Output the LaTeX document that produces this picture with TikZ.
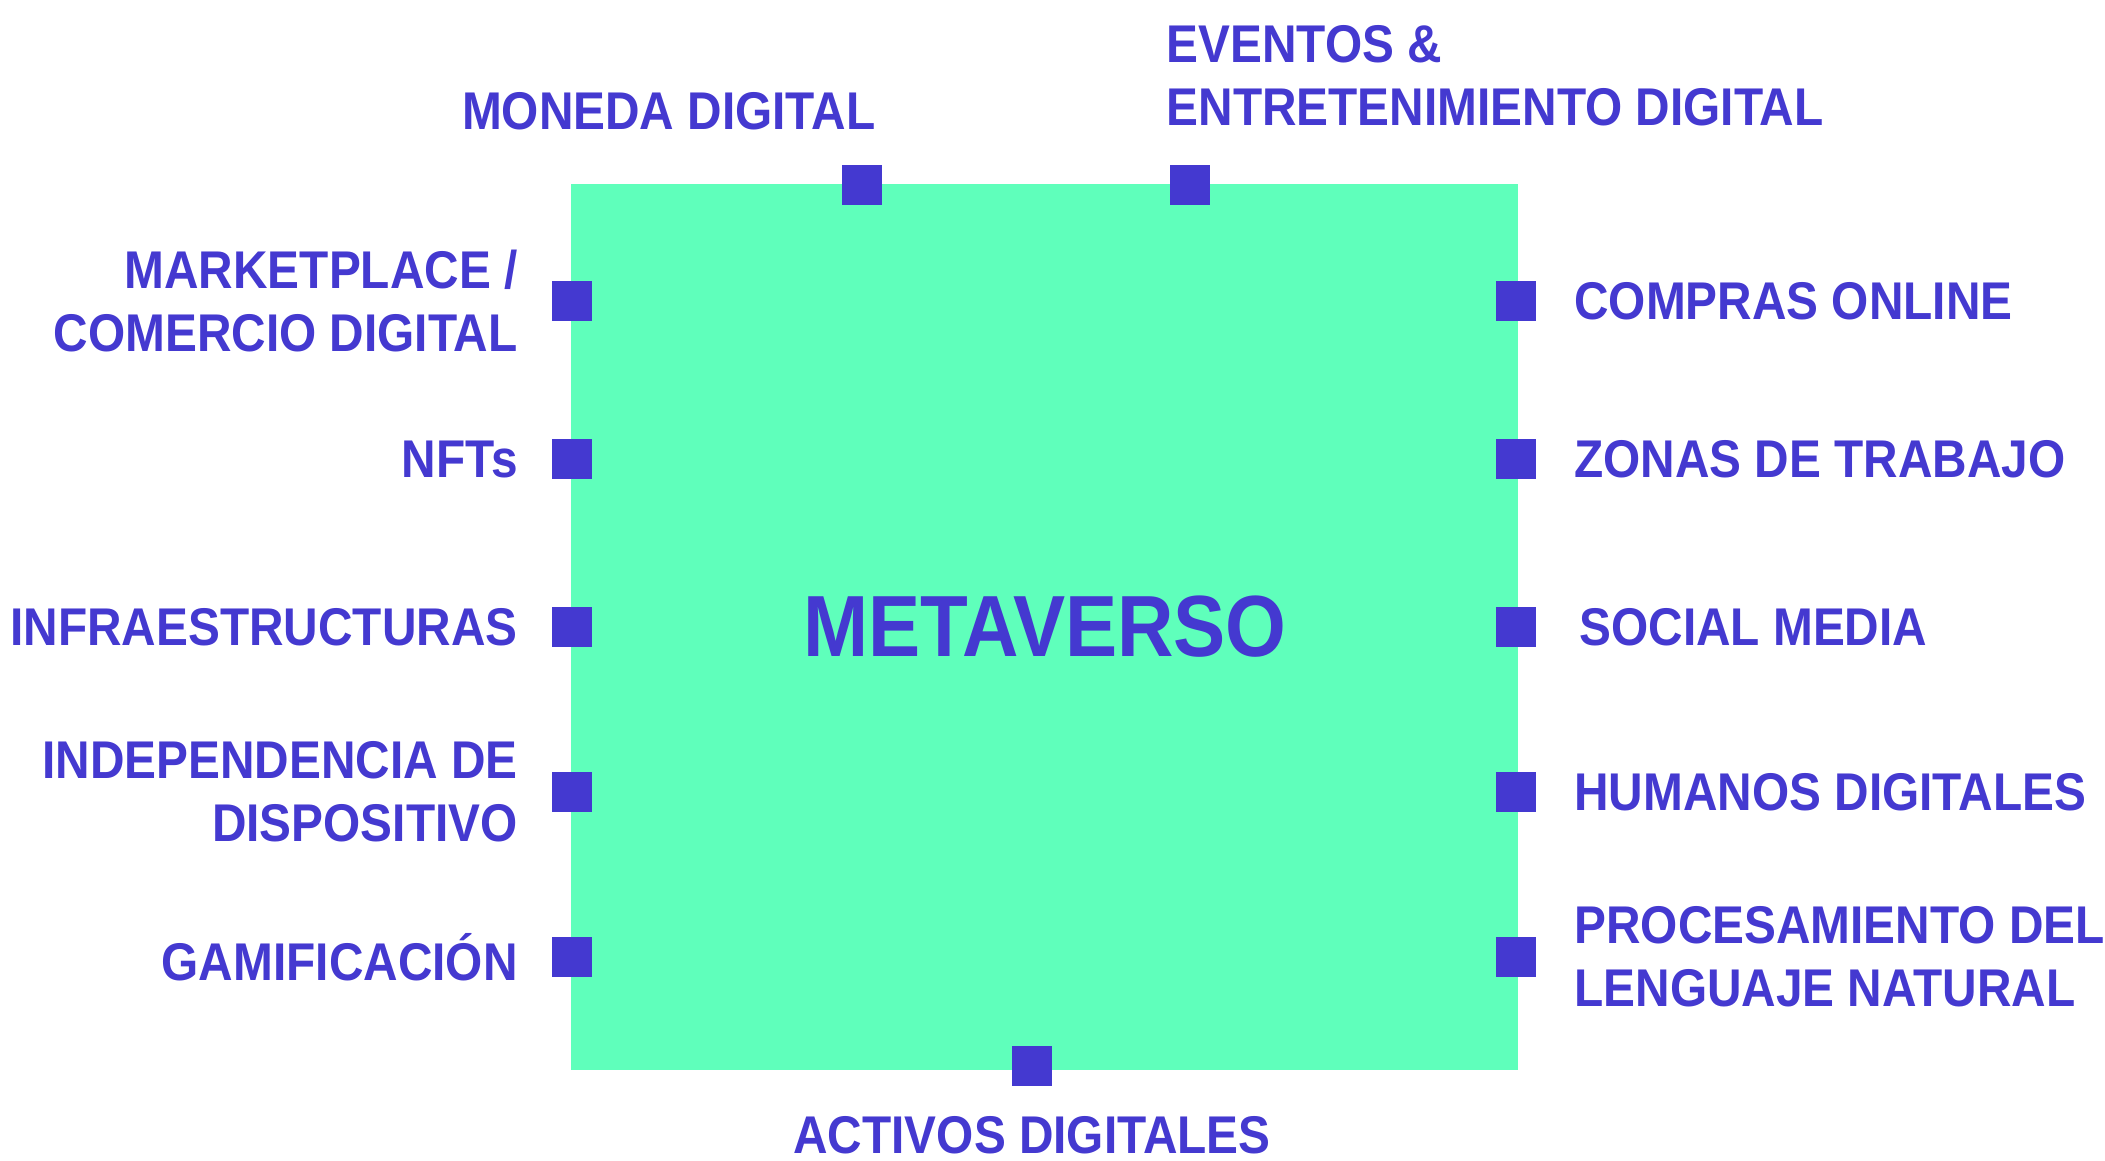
\documentclass[tikz,border=0pt]{standalone}
\usepackage{fontspec}
\setmainfont{Liberation Sans}[FakeStretch=0.9]
\usetikzlibrary{positioning}

\definecolor{metablue}{HTML}{4439D0}
\definecolor{metagreen}{HTML}{5FFFBB}

\begin{document}
\begin{tikzpicture}[x=0.01cm, y=-0.01cm,
    bullet/.style={fill=metablue, inner sep=0pt, minimum size=0.4cm},
    lbl/.style={text=metablue, inner sep=0pt, font=\fontsize{15.1}{17.9}\selectfont\bfseries}]

    \useasboundingbox (0,0) rectangle (2105,1161);

    % the metaverse block
    \fill[metagreen] (571,184) rectangle (1518,1070);
    \node[text=metablue, inner sep=0pt, font=\fontsize{24.7}{29}\selectfont\bfseries] (meta) at (1045,627) {METAVERSO};

    % squares sitting on the edges
    \foreach \y [count=\i] in {301,459,627,792,957} {
        \node[bullet] (l\i) at (572,\y) {};
        \node[bullet] (r\i) at (1516,\y) {};
    }
    \node[bullet] (t1) at (862,185) {};
    \node[bullet] (t2) at (1190,185) {};
    \node[bullet] (b1) at (1032,1066) {};

    % labels on the left
    \node[lbl, align=right, left=0.33cm of l1] (market) {MARKETPLACE /\\COMERCIO DIGITAL};
    \node[lbl, left=0.33cm of l2] (nfts) {NFTs};
    \node[lbl, left=0.33cm of l3] (infra) {INFRAESTRUCTURAS};
    \node[lbl, align=right, left=0.33cm of l4] (indep) {INDEPENDENCIA DE\\DISPOSITIVO};
    \node[lbl, left=0.33cm of l5] (gami) {GAMIFICACIÓN};

    % labels on the right
    \node[lbl, right=0.37cm of r1] (compras) {COMPRAS ONLINE};
    \node[lbl, right=0.37cm of r2] (zonas) {ZONAS DE TRABAJO};
    \node[lbl, right=0.42cm of r3] (social) {SOCIAL MEDIA};
    \node[lbl, right=0.37cm of r4] (humanos) {HUMANOS DIGITALES};
    \node[lbl, align=left, right=0.37cm of r5] (proc) {PROCESAMIENTO DEL\\LENGUAJE NATURAL};

    % labels on top and below
    \node[lbl, anchor=base east] (moneda) at (876,130) {MONEDA DIGITAL};
    \node[lbl, align=left, anchor=south west] (eventos) at (1166,127) {EVENTOS \&\\ENTRETENIMIENTO DIGITAL};
    \node[lbl, below=0.29cm of b1] (activos) {ACTIVOS DIGITALES};

\end{tikzpicture}
\end{document}
